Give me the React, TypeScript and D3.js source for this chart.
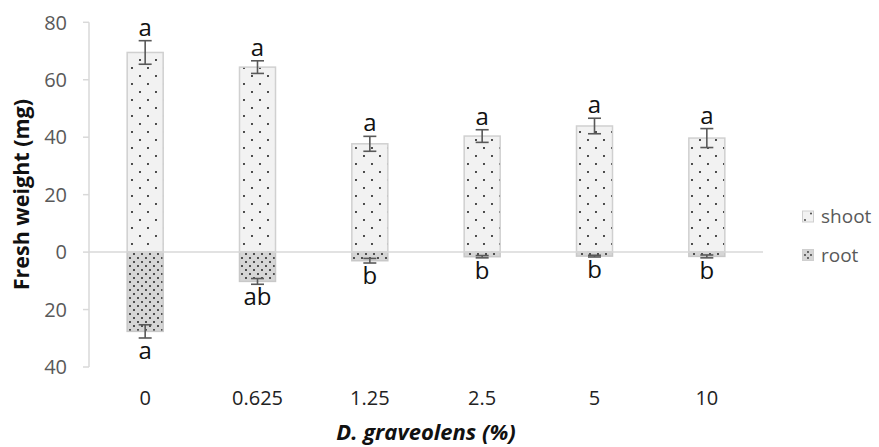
import React from "react";
import * as d3 from "d3";

// Concentration groups (x axis)
const categories = ["0", "0.625", "1.25", "2.5", "5", "10"];
// Shoot fresh weight (mg), mean and error
const shootValues = [69.5, 64.4, 37.7, 40.4, 43.9, 39.7];
const shootErrors = [4.1, 2.2, 2.6, 2.2, 2.7, 3.3];
// Root fresh weight (mg), drawn downward from zero
const rootValues = [27.6, 10.2, 3.0, 1.6, 1.4, 1.5];
const rootErrors = [2.3, 1.0, 0.8, 0.4, 0.3, 0.5];
// Significance letters
const shootLetters = ["a", "a", "a", "a", "a", "a"];
const rootLetters = ["a", "ab", "b", "b", "b", "b"];
// Y ticks (signed position, shown as absolute value)
const yTicks = [80, 60, 40, 20, 0, -20, -40];
const seriesNames = ["shoot", "root"];

const W = 879;
const H = 447;
const FONT = "'Open Sans', 'Noto Sans', sans-serif";

export default function App() {
  const x = d3.scaleBand<string>().domain(categories).range([89, 763]).paddingInner(0).paddingOuter(0);
  const y = d3.scaleLinear().domain([-40, 80]).range([367, 22.3]);
  const barW = 36;
  const axisColor = "#d9d9d9";
  const textGray = "#595959";
  const errColor = "#595959";
  const cap = 6.5;

  const cx = (c: string) => (x(c) as number) + x.bandwidth() / 2;

  return (
    <svg
      width={W}
      height={H}
      style={{ position: "absolute", left: 0, top: 0, background: "#fff" }}
      fontFamily={FONT}
    >
      <defs>
        <pattern id="shootDots" patternUnits="userSpaceOnUse" width={16} height={16}>
          <rect width={16} height={16} fill="#f2f2f2" />
          <circle cx={4} cy={4} r={1.05} fill="#222" />
          <circle cx={12} cy={12} r={1.05} fill="#222" />
        </pattern>
        <pattern id="rootDots" patternUnits="userSpaceOnUse" width={8} height={8}>
          <rect width={8} height={8} fill="#d6d6d6" />
          <circle cx={2} cy={2} r={1.0} fill="#222" />
          <circle cx={6} cy={6} r={1.0} fill="#222" />
        </pattern>
      </defs>

      {/* Y axis */}
      <line x1={89} x2={89} y1={y(80)} y2={y(-40)} stroke={axisColor} strokeWidth={1.5} />
      {yTicks.map((t) => (
        <g key={t}>
          <line x1={83} x2={89} y1={y(t)} y2={y(t)} stroke={axisColor} strokeWidth={1.5} />
          <text
            x={67}
            y={y(t)}
            dy="0.36em"
            textAnchor="end"
            fontSize={20}
            fill={textGray}
          >
            {Math.abs(t)}
          </text>
        </g>
      ))}

      {/* Bars */}
      {categories.map((c, i) => {
        const bx = cx(c) - barW / 2;
        return (
          <g key={c}>
            <rect
              x={bx}
              y={y(shootValues[i])}
              width={barW}
              height={y(0) - y(shootValues[i])}
              fill="url(#shootDots)"
              stroke="#d0d0d0"
              strokeWidth={1.5}
            />
            <rect
              x={bx}
              y={y(0)}
              width={barW}
              height={y(-rootValues[i]) - y(0)}
              fill="url(#rootDots)"
              stroke="#c8c8c8"
              strokeWidth={1.5}
            />
          </g>
        );
      })}

      {/* Zero line */}
      <line x1={89} x2={763} y1={y(0)} y2={y(0)} stroke={axisColor} strokeWidth={1.5} />

      {/* Error bars and letters */}
      {categories.map((c, i) => {
        const px = cx(c);
        const sHi = y(shootValues[i] + shootErrors[i]);
        const sLo = y(shootValues[i] - shootErrors[i]);
        const rHi = y(-(rootValues[i] - rootErrors[i]));
        const rLo = y(-(rootValues[i] + rootErrors[i]));
        return (
          <g key={"e" + c} stroke={errColor} strokeWidth={1.6}>
            <line x1={px} x2={px} y1={sHi} y2={sLo} />
            <line x1={px - cap} x2={px + cap} y1={sHi} y2={sHi} />
            <line x1={px - cap} x2={px + cap} y1={sLo} y2={sLo} />
            <line x1={px} x2={px} y1={rHi} y2={rLo} />
            <line x1={px - cap} x2={px + cap} y1={rHi} y2={rHi} />
            <line x1={px - cap} x2={px + cap} y1={rLo} y2={rLo} />
            <text
              x={px}
              y={sHi - 5}
              textAnchor="middle"
              fontSize={24}
              fill="#111"
              stroke="none"
            >
              {shootLetters[i]}
            </text>
            <text
              x={px}
              y={rLo + 21}
              textAnchor="middle"
              fontSize={24}
              fill="#111"
              stroke="none"
            >
              {rootLetters[i]}
            </text>
          </g>
        );
      })}

      {/* X tick labels */}
      {categories.map((c) => (
        <text key={"t" + c} x={cx(c)} y={405} textAnchor="middle" fontSize={20} fill="#222">
          {c}
        </text>
      ))}

      {/* Axis titles */}
      <text
        transform={`translate(29,${(y(80) + y(-40)) / 2}) rotate(-90)`}
        textAnchor="middle"
        fontSize={21.5}
        fontWeight="bold"
        fill="#111"
      >
        Fresh weight (mg)
      </text>
      <text
        x={(89 + 763) / 2}
        y={440}
        textAnchor="middle"
        fontSize={22}
        fontWeight="bold"
        fontStyle="italic"
        fill="#111"
      >
        D. graveolens (%)
      </text>

      {/* Legend */}
      {seriesNames.map((s, i) => {
        const ly = 216.5 + i * 38.5;
        return (
          <g key={s}>
            <rect
              x={802.5}
              y={ly - 5.5}
              width={11}
              height={11}
              fill={i === 0 ? "#f2f2f2" : "#d6d6d6"}
              stroke="#cfcfcf"
              strokeWidth={1}
            />
            {i === 0 ? (
              <>
                <circle cx={811} cy={ly - 3} r={0.9} fill="#333" />
                <circle cx={805} cy={ly + 3.5} r={0.9} fill="#333" />
              </>
            ) : (
              <>
                <circle cx={808} cy={ly - 3} r={0.9} fill="#333" />
                <circle cx={805} cy={ly} r={0.9} fill="#333" />
                <circle cx={811} cy={ly} r={0.9} fill="#333" />
                <circle cx={808} cy={ly + 3} r={0.9} fill="#333" />
              </>
            )}
            <text x={821} y={ly} dy="0.36em" fontSize={19} fill={textGray}>
              {s}
            </text>
          </g>
        );
      })}
    </svg>
  );
}
